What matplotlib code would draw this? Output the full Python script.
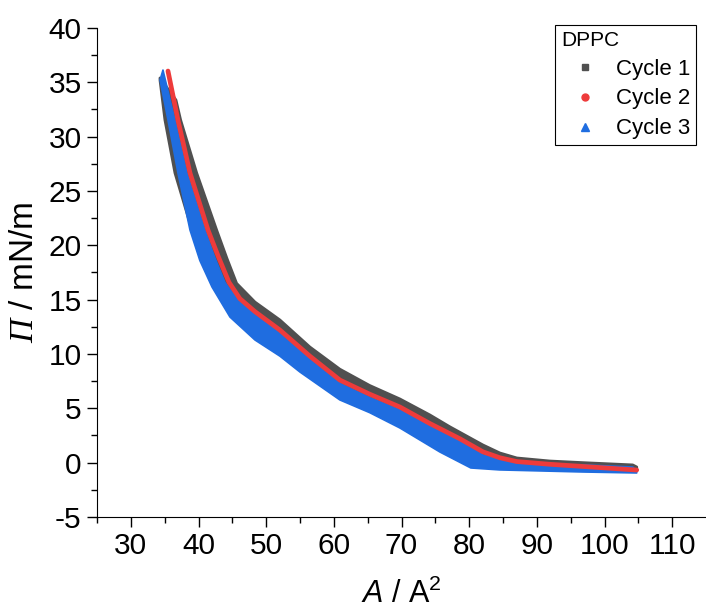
import numpy as np
import matplotlib.pyplot as plt

plt.rcParams['font.family'] = ['Liberation Sans', 'DejaVu Sans']
plt.rcParams['axes.unicode_minus'] = False
plt.rcParams['mathtext.fontset'] = 'custom'
plt.rcParams['mathtext.rm'] = 'Liberation Sans'
plt.rcParams['mathtext.it'] = 'Liberation Sans:italic'
plt.rcParams['mathtext.sf'] = 'Liberation Serif:italic'

# Cycle 1: upper edge and lower edge of the isotherm band (area / A^2, pressure / mN/m)
c1_up_x = [34.31, 36.67, 37.36, 39.73, 42.68, 44.2, 45.63, 48.34, 52.03, 56.46, 60.89, 65.3, 69.76,
           74.19, 77.14, 82.02, 84.53, 87.04, 91.9, 96.79, 104.17, 104.76]
c1_up_y = [35.4, 33.37, 31.53, 26.66, 21.41, 18.8, 16.5, 14.78, 13.13, 10.64, 8.6, 7.1, 5.86,
           4.39, 3.3, 1.63, 0.89, 0.43, 0.15, 0.0, -0.21, -0.4]
c1_lo_x = [34.31, 35.04, 36.52, 39.03, 42.87, 48.34, 52.03, 60.89, 69.76, 80.24, 96.79, 104.76]
c1_lo_y = [35.2, 31.53, 26.66, 21.41, 16.17, 12.5, 11.29, 6.69, 4.39, 0.25, -0.31, -0.68]

# Cycle 2
c2_x = [35.49, 36.96, 38.74, 41.40, 42.9, 44.5, 46.1, 48.34, 52.03, 56.46, 60.89, 65.3, 69.76,
        74.19, 78.62, 82.02, 84.53, 87.04, 91.9, 96.79, 104.76]
c2_y = [36.04, 31.53, 26.66, 21.41, 19.0, 16.6, 15.1, 13.9, 12.2, 9.8, 7.6, 6.3, 5.12,
        3.6, 2.2, 1.0, 0.45, 0.1, -0.15, -0.35, -0.68]

# Cycle 3
c3_up_x = [34.75, 36.52, 38.29, 40.95, 42.4, 43.9, 45.9, 48.34, 52.03, 56.46, 60.89, 65.3, 69.76,
           74.19, 78.62, 82.02, 87.04, 96.79, 104.17, 104.76]
c3_up_y = [36.13, 31.53, 26.66, 21.41, 18.9, 16.6, 14.9, 13.7, 11.9, 9.5, 7.3, 6.0, 4.85,
           3.4, 2.09, 0.71, -0.12, -0.21, -0.40, -0.77]
c3_lo_x = [34.31, 35.49, 36.96, 38.74, 40.2, 41.99, 44.65, 48.34, 52.03, 54.99, 60.89, 65.3, 69.76,
           75.67, 80.24, 84.5, 96.79, 104.76]
c3_lo_y = [35.21, 31.53, 26.66, 21.41, 18.6, 16.17, 13.40, 11.29, 9.8, 8.34, 5.77, 4.6, 3.19,
           0.98, -0.49, -0.67, -0.86, -0.95]

col1 = '#505050'
col2 = '#ee3b3b'
col3 = '#1f6de0'

fig = plt.figure(figsize=(7.06, 6.10), dpi=100)
ax = fig.add_axes([0.1374, 0.1525, 0.8626, 0.8016])

# bands, drawn in cycle order
ax.fill(c1_up_x + c1_lo_x[::-1], c1_up_y + c1_lo_y[::-1], color=col1, lw=2, joinstyle='round')
ax.plot(c2_x, c2_y, color=col2, lw=3.4, solid_capstyle='round', solid_joinstyle='round')
ax.fill(c3_up_x + c3_lo_x[::-1], c3_up_y + c3_lo_y[::-1], color=col3, lw=1.2, joinstyle='round')

# legend entries (scatter symbols as in the original)
ax.plot([], [], 's', color=col1, ms=4.5, label='Cycle 1')
ax.plot([], [], 'o', color=col2, ms=5, label='Cycle 2')
ax.plot([], [], '^', color=col3, ms=5.5, label='Cycle 3')

ax.set_xlim(25, 115)
ax.set_ylim(-5, 40)
ax.set_xticks(np.arange(30, 111, 10))
ax.set_xticks(np.arange(25, 115, 5), minor=True)
ax.set_yticks(np.arange(-5, 41, 5))
ax.set_yticks(np.arange(-5, 40, 2.5), minor=True)
ax.spines['top'].set_visible(False)
ax.spines['right'].set_visible(False)
ax.tick_params(which='major', direction='out', length=7, width=1, labelsize=21.5, pad=4)
ax.tick_params(which='minor', direction='out', length=4, width=1)

ax.set_xlabel(r'$A$ / A$^{2}$', fontsize=22, labelpad=13)
ax.set_ylabel(r'$\mathsf{\Pi}$ / mN/m', fontsize=24, labelpad=6)

leg = ax.legend(title='DPPC', loc='upper right', bbox_to_anchor=(0.984, 1.006),
                borderaxespad=0, fontsize=16, title_fontsize=15, alignment='left',
                fancybox=False, framealpha=1, edgecolor='black', handletextpad=0.3,
                handlelength=2.2, labelspacing=0.4, borderpad=0.25)
leg.get_frame().set_linewidth(0.8)

fig.savefig('out.png', dpi=100)
